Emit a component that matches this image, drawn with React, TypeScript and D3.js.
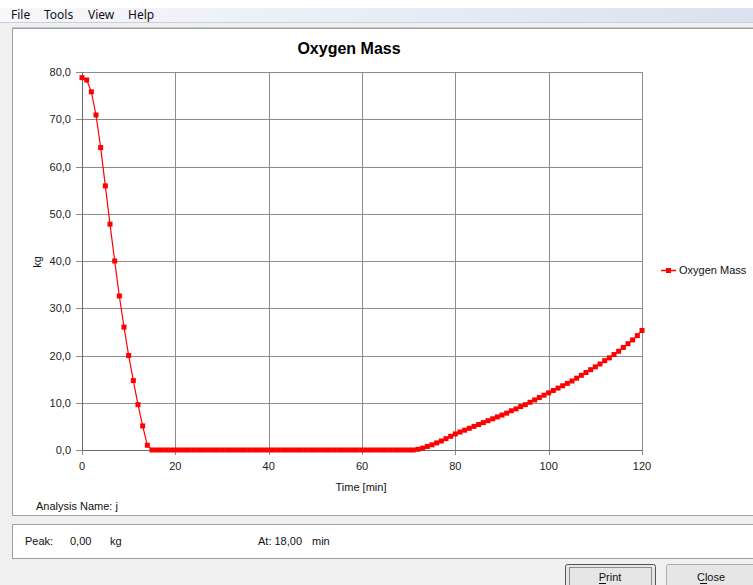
import React, { useEffect, useRef } from "react";
import * as d3 from "d3";

// Oxygen mass [kg], one reading per minute from 0 to 120 min
const oxygenMass = [
  78.8, 78.3, 75.8, 70.9, 64.0, 55.9, 47.8, 40.0, 32.6, 26.0,
  20.0, 14.7, 9.6, 5.1, 1.0, 0, 0, 0, 0, 0,
  0, 0, 0, 0, 0, 0, 0, 0, 0, 0,
  0, 0, 0, 0, 0, 0, 0, 0, 0, 0,
  0, 0, 0, 0, 0, 0, 0, 0, 0, 0,
  0, 0, 0, 0, 0, 0, 0, 0, 0, 0,
  0, 0, 0, 0, 0, 0, 0, 0, 0, 0,
  0, 0, 0.15, 0.4, 0.75, 1.1, 1.5, 1.9, 2.4, 2.9,
  3.4, 3.8, 4.2, 4.6, 5.0, 5.4, 5.8, 6.2, 6.6, 7.0,
  7.4, 7.8, 8.3, 8.7, 9.2, 9.6, 10.1, 10.6, 11.1, 11.6,
  12.1, 12.6, 13.1, 13.6, 14.1, 14.6, 15.2, 15.8, 16.4, 17.0,
  17.6, 18.2, 18.9, 19.5, 20.2, 20.9, 21.7, 22.5, 23.3, 24.2,
  25.3,
];
const xTicks = [0, 20, 40, 60, 80, 100, 120];
const yTicks = [0, 10, 20, 30, 40, 50, 60, 70, 80];
const menuItems = ["File", "Tools", "View", "Help"];

const W = 753;
const H = 585;
const uiFont = "'Liberation Sans', Arial, sans-serif";

export default function App() {
  const ref = useRef<SVGSVGElement>(null);

  useEffect(() => {
    const svg = d3.select(ref.current);
    svg.selectAll("*").remove();

    // window background
    svg.append("rect").attr("width", W).attr("height", H).attr("fill", "#f0f0f0");
    svg.append("rect").attr("width", W).attr("height", 8).attr("fill", "#ffffff");

    // menu bar
    const grad = svg.append("defs").append("linearGradient").attr("id", "menuGrad");
    grad.append("stop").attr("offset", "0%").attr("stop-color", "#f7f8fb");
    grad.append("stop").attr("offset", "100%").attr("stop-color", "#dbe1f0");
    svg.append("rect").attr("x", 0).attr("y", 8).attr("width", W).attr("height", 14).attr("fill", "url(#menuGrad)");
    svg.append("line").attr("x1", 0).attr("x2", W).attr("y1", 22.5).attr("y2", 22.5).attr("stroke", "#c9cfdd");
    const menuX = [11, 44, 88, 128];
    menuItems.forEach((m, i) => {
      svg.append("text").attr("x", menuX[i]).attr("y", 19)
        .attr("font-family", "'Noto Sans', 'DejaVu Sans', sans-serif").attr("font-size", 12)
        .attr("fill", "#111").text(m);
    });

    // chart panel
    svg.append("rect").attr("x", 12.5).attr("y", 28.5).attr("width", W).attr("height", 487)
      .attr("fill", "#ffffff").attr("stroke", "#a0a0a0");
    svg.append("line").attr("x1", 12).attr("x2", W).attr("y1", 27.5).attr("y2", 27.5).attr("stroke", "#c8c8c8");

    // peak panel
    svg.append("rect").attr("x", 12.5).attr("y", 524.5).attr("width", W).attr("height", 34)
      .attr("fill", "#ffffff").attr("stroke", "#a0a0a0");

    const x = d3.scaleLinear().domain([0, 120]).range([82, 642]);
    const y = d3.scaleLinear().domain([0, 80]).range([450, 72]);
    const fmt = (v: number) => d3.format(".1f")(v).replace(".", ",");

    const g = svg.append("g");

    // grid
    xTicks.forEach((t) => {
      g.append("line").attr("x1", Math.round(x(t)) + 0.5).attr("x2", Math.round(x(t)) + 0.5)
        .attr("y1", 72).attr("y2", 455).attr("stroke", "#8c8c8c");
      g.append("text").attr("x", x(t)).attr("y", 470).attr("text-anchor", "middle")
        .attr("font-family", uiFont).attr("font-size", 11).attr("fill", "#222").text(t);
    });
    yTicks.forEach((t) => {
      g.append("line").attr("x1", 76).attr("x2", 642)
        .attr("y1", Math.round(y(t)) + 0.5).attr("y2", Math.round(y(t)) + 0.5).attr("stroke", "#8c8c8c");
      g.append("text").attr("x", 71).attr("y", y(t) + 4).attr("text-anchor", "end")
        .attr("font-family", uiFont).attr("font-size", 11).attr("fill", "#222").text(fmt(t));
    });
    g.append("line").attr("x1", 82.5).attr("x2", 82.5).attr("y1", 72).attr("y2", 451).attr("stroke", "#6a6a6a");
    g.append("line").attr("x1", 82).attr("x2", 643).attr("y1", 450.5).attr("y2", 450.5).attr("stroke", "#6a6a6a");

    // series
    const line = d3.line<number>().x((_, i) => x(i)).y((d) => y(d));
    g.append("path").datum(oxygenMass).attr("d", line).attr("fill", "none")
      .attr("stroke", "#ff0000").attr("stroke-width", 1.2);
    g.selectAll("rect.pt").data(oxygenMass).enter().append("rect")
      .attr("x", (_, i) => x(i) - 2.5).attr("y", (d) => y(d) - 2.5)
      .attr("width", 5).attr("height", 5).attr("fill", "#ff0000");

    // title & axis labels
    svg.append("text").attr("x", 349).attr("y", 54).attr("text-anchor", "middle")
      .attr("font-family", uiFont).attr("font-size", 16).attr("font-weight", "bold").attr("fill", "#000")
      .text("Oxygen Mass");
    svg.append("text").attr("x", 361).attr("y", 491).attr("text-anchor", "middle")
      .attr("font-family", uiFont).attr("font-size", 11).attr("fill", "#111").text("Time [min]");
    svg.append("text").attr("transform", "translate(41,262) rotate(-90)").attr("text-anchor", "middle")
      .attr("font-family", uiFont).attr("font-size", 11).attr("fill", "#111").text("kg");

    // legend
    svg.append("line").attr("x1", 661).attr("x2", 676).attr("y1", 270.5).attr("y2", 270.5)
      .attr("stroke", "#ff0000").attr("stroke-width", 1.5);
    svg.append("rect").attr("x", 666).attr("y", 268).attr("width", 5).attr("height", 5).attr("fill", "#ff0000");
    svg.append("text").attr("x", 679).attr("y", 274).attr("font-family", uiFont).attr("font-size", 11)
      .attr("fill", "#111").text("Oxygen Mass");

    // footer texts
    const footer = [
      { x: 36, y: 510, t: "Analysis Name: j" },
      { x: 25, y: 545, t: "Peak:" },
      { x: 70, y: 545, t: "0,00" },
      { x: 110, y: 545, t: "kg" },
      { x: 258, y: 545, t: "At: 18,00" },
      { x: 312, y: 545, t: "min" },
    ];
    footer.forEach((f) => {
      svg.append("text").attr("x", f.x).attr("y", f.y).attr("font-family", uiFont)
        .attr("font-size", 11).attr("fill", "#111").text(f.t);
    });

    // buttons
    const buttons = [
      { x: 565, label: "Print", focus: true },
      { x: 666, label: "Close", focus: false },
    ];
    buttons.forEach((b) => {
      svg.append("rect").attr("x", b.x + 0.5).attr("y", 564.5).attr("width", 90).attr("height", 24)
        .attr("rx", 2).attr("fill", "#e6e6e6").attr("stroke", b.focus ? "#555" : "#adadad");
      if (b.focus) {
        svg.append("rect").attr("x", b.x + 4.5).attr("y", 567.5).attr("width", 82).attr("height", 18)
          .attr("fill", "none").attr("stroke", "#333").attr("stroke-dasharray", "1,1");
      }
      svg.append("text").attr("x", b.x + 45).attr("y", 581).attr("text-anchor", "middle")
        .attr("font-family", uiFont).attr("font-size", 11).attr("fill", "#111").text(b.label);
      svg.append("line").attr("x1", b.x + 34).attr("x2", b.x + 41).attr("y1", 583.5).attr("y2", 583.5)
        .attr("stroke", "#111");
    });
  }, []);

  return (
    <div style={{ position: "fixed", left: 0, top: 0 }}>
      <svg ref={ref} width={W} height={H} style={{ display: "block" }}></svg>
    </div>
  );
}
